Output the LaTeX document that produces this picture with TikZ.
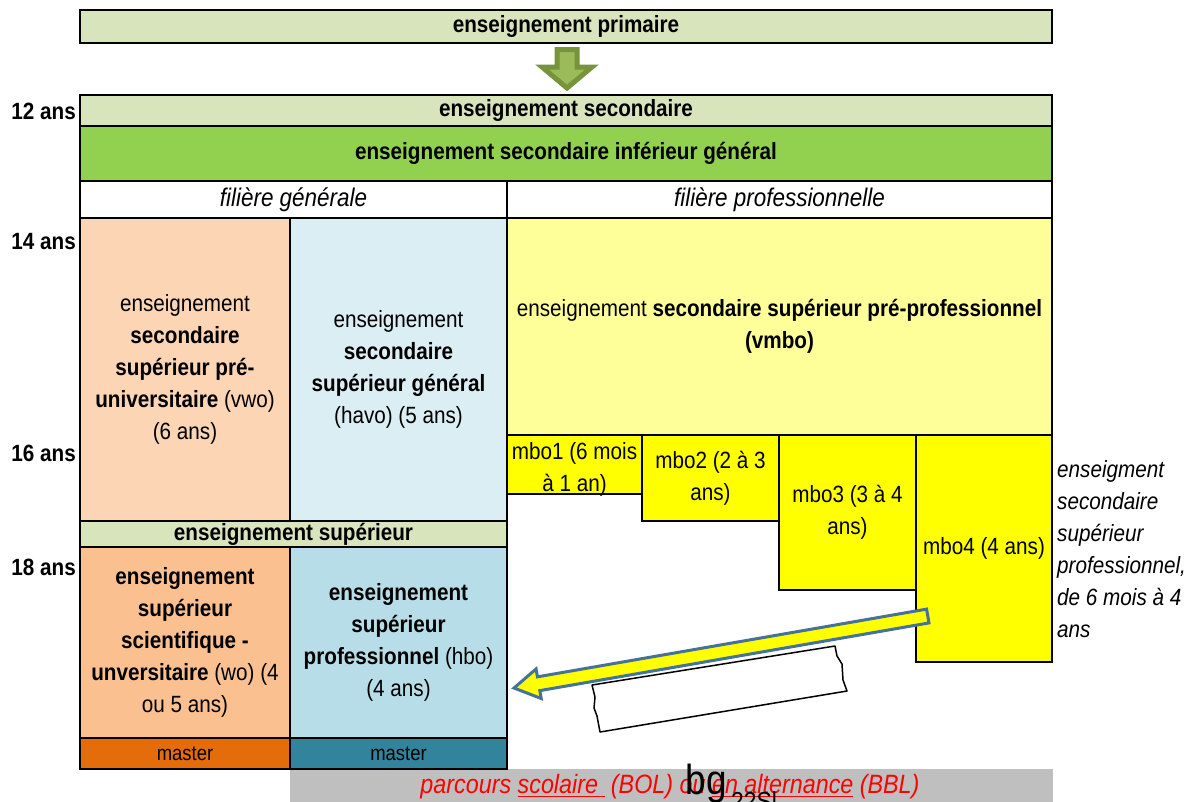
\documentclass[tikz,border=0pt]{standalone}
\usepackage{fontspec}
\setmainfont{Liberation Sans}[FakeStretch=0.88]
\newcommand\cellfont{\fontsize{23.5}{32}\selectfont}
\newcommand\smallcellfont{\fontsize{21}{28}\selectfont}
\newcommand\redul[1]{\setbox0\hbox{#1}\rlap{\rule[-3.5pt]{\wd0}{1.6pt}}\box0\relax}
\definecolor{palegreen}{HTML}{D8E4BC}
\definecolor{brightgreen}{HTML}{92D050}
\definecolor{peach}{HTML}{FCD5B4}
\definecolor{paleblue}{HTML}{DAEEF3}
\definecolor{paleyellow}{HTML}{FFFF99}
\definecolor{mboyellow}{HTML}{FFFF00}
\definecolor{apricot}{HTML}{FAC090}
\definecolor{skyblue}{HTML}{B7DEE8}
\definecolor{masterorange}{HTML}{E46C0A}
\definecolor{masterteal}{HTML}{31849B}
\definecolor{stripgray}{HTML}{BFBFBF}
\definecolor{arrowgreen}{HTML}{9BBB59}
\definecolor{arrowgreendark}{HTML}{77933C}
\definecolor{arrowblue}{HTML}{44729D}
\begin{document}
\begin{tikzpicture}[x=1pt,y=-1pt,
  cell/.style={draw=black, line width=2.2pt, inner sep=0pt, outer sep=0pt,
    align=center, font=\cellfont},
  age/.style={anchor=east, inner sep=0pt, font=\cellfont\bfseries},
  note/.style={inner sep=0pt, align=left, font=\cellfont\itshape}]
\clip (0,0) rectangle (1188,801);
\fill[white] (0,0) rectangle (1188,801);

% primary school and transition arrow
\node[cell, fill=palegreen, minimum width=972, minimum height=33] (prim) at (566,26.5)
  {\bfseries enseignement primaire};
\draw[line width=5pt, draw=arrowgreendark, fill=arrowgreen, line join=miter]
  (557,49.5) -- (577,49.5) -- (577,67) -- (592,67) -- (567,88) -- (542,67) -- (557,67) -- cycle;

% secondary school header rows
\node[cell, fill=palegreen, minimum width=972, minimum height=31] (sec) at (566,110.5)
  {\bfseries enseignement secondaire};
\node[cell, fill=brightgreen, minimum width=972, minimum height=55] (inf) at (566,153.5)
  {\bfseries enseignement secondaire inférieur général};
\node[cell, fill=white, minimum width=427, minimum height=37, font=\fontsize{25.5}{30}\selectfont\itshape] (fgen) at (293.5,199.5)
  {filière générale};
\node[cell, fill=white, minimum width=545, minimum height=37, font=\fontsize{25.5}{30}\selectfont\itshape] (fpro) at (779.5,199.5)
  {filière professionnelle};

% upper secondary tracks
\node[cell, fill=peach, minimum width=210, minimum height=303] (vwo) at (185,369.5)
  {enseignement\\ \textbf{secondaire}\\ \textbf{supérieur pré-}\\ \textbf{universitaire} (vwo)\\ (6 ans)};
\node[cell, fill=paleblue, minimum width=217, minimum height=303] (havo) at (398.5,369.5)
  {enseignement\\ \textbf{secondaire}\\ \textbf{supérieur général}\\ (havo) (5 ans)};
\node[cell, fill=paleyellow, minimum width=545, minimum height=217] (vmbo) at (779.5,326.5)
  {enseignement \textbf{secondaire supérieur pré-professionnel}\\ \textbf{(vmbo)}};

% vocational levels
\node[cell, fill=mboyellow, minimum width=135, minimum height=59] (mbo1) at (574.5,464.5) {};
\node[align=center, font=\cellfont, inner sep=0pt] (mbo1t) at (574.5,469) {mbo1 (6 mois\\ à 1 an)};
\node[cell, fill=mboyellow, minimum width=137, minimum height=86] (mbo2) at (710.5,478)
  {mbo2 (2 à 3\\ ans)};
\node[cell, fill=mboyellow, minimum width=137, minimum height=155] (mbo3) at (847.5,512.5)
  {mbo3 (3 à 4\\ ans)};
\node[cell, fill=mboyellow, minimum width=136, minimum height=227] (mbo4) at (984,548.5)
  {mbo4 (4 ans)};
\node[note, anchor=west] (mbonote) at (1057,549)
  {enseigment\\ secondaire\\ supérieur\\ professionnel,\\ de 6 mois à 4\\ ans};

% higher education
\node[cell, fill=palegreen, minimum width=427, minimum height=26] (sup) at (293.5,534)
  {\bfseries enseignement supérieur};
\node[cell, fill=apricot, minimum width=210, minimum height=191] (wo) at (185,642.5)
  {\textbf{enseignement}\\ \textbf{supérieur}\\ \textbf{scientifique -}\\ \textbf{unversitaire} (wo) (4\\ ou 5 ans)};
\node[cell, fill=skyblue, minimum width=217, minimum height=191] (hbo) at (398.5,642.5)
  {\textbf{enseignement}\\ \textbf{supérieur}\\ \textbf{professionnel} (hbo)\\ (4 ans)};

% bottom strip with the two learning pathways
\node[fill=stripgray, minimum width=763, minimum height=36, inner sep=0pt] (strip) at (671.5,787) {};
\node[cell, fill=masterorange, minimum width=210, minimum height=31, font=\smallcellfont] (mas1) at (185,753.5) {master};
\node[cell, fill=masterteal, minimum width=217, minimum height=31, font=\smallcellfont] (mas2) at (398.5,753.5) {master};
\node[text=red, inner sep=0pt, font=\fontsize{26.5}{30}\selectfont\itshape] (path) at (670,787)
  {parcours \redul{scolaire\ }\ (BOL) ou \redul{en alternance} (BBL)};
\node[inner sep=0pt, font=\fontsize{42}{42}\selectfont] (stray1) at (706,784) {bg};
\node[inner sep=0pt, font=\fontsize{26}{30}\selectfont] (stray2) at (754,801) {22Sl};

% age markers
\node[age] (a12) at (76,111) {12 ans};
\node[age] (a14) at (76,242) {14 ans};
\node[age] (a16) at (76,453) {16 ans};
\node[age] (a18) at (76,567) {18 ans};

% sketched label box and transfer arrow from mbo4 to hbo
\draw[line width=1.5pt, fill=white, line join=round]
  (592,685) -- (595,697) -- (594,708) -- (597,716) -- (600,732)
  -- (847,691) -- (843,680) -- (842,664) -- (837,656) -- (835,646) -- cycle;
\coordinate (ytip) at (514,688);
\coordinate (ytail) at (928,616);
\begin{scope}[shift={(ytip)}, rotate=9.87]
  \draw[line width=3pt, draw=arrowblue, fill=mboyellow, line join=miter]
    (0,0) -- (25,-15) -- (25,-7) -- (420,-7) -- (420,7) -- (25,7) -- (25,15) -- cycle;
\end{scope}
\end{tikzpicture}
\end{document}
